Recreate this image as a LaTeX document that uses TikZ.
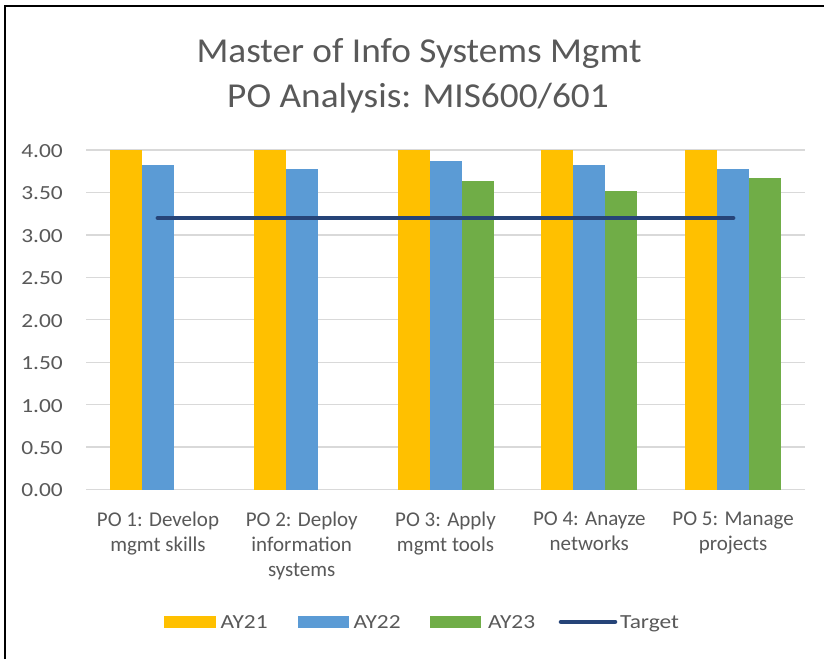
\documentclass[tikz,border=0pt]{standalone}
\usepackage{fontspec}
\setmainfont{Carlito}
\newfontfamily\widefont[FakeStretch=1.17]{Carlito}
\newfontfamily\titlefont[FakeStretch=1.065]{Carlito}
\definecolor{cA}{HTML}{FFC000}
\definecolor{cB}{HTML}{5B9BD5}
\definecolor{cC}{HTML}{70AD47}
\definecolor{cT}{HTML}{264478}
\definecolor{gridc}{HTML}{D9D9D9}
\definecolor{txtc}{HTML}{595959}
\begin{document}
\begin{tikzpicture}[x=1pt,y=1pt,
  declare function={vy(\v)=-489.5+84.875*\v;},
  gridline/.style={draw=gridc,line width=1.3pt},
  ticklbl/.style={anchor=east,inner sep=0pt,text=txtc,font=\widefont\fontsize{20}{24}\selectfont},
  catlbl/.style={anchor=north,inner sep=0pt,align=center,text=txtc,font=\fontsize{21}{25}\selectfont},
  leglbl/.style={anchor=base west,inner sep=0pt,text=txtc,font=\widefont\fontsize{20}{24}\selectfont},
  titlelbl/.style={anchor=base,inner sep=0pt,text=txtc,font=\titlefont\fontsize{35}{42}\selectfont},
  targetline/.style={draw=cT,line width=4.6pt,line cap=round}]
\useasboundingbox (0,0) rectangle (824,-659);
\fill[white] (0,0) rectangle (824,-659);
% outer frame
\draw[black,line width=2.6pt] (5,-659) -- (5,-6) -- (824,-6);
% title
\node[titlelbl] (title1) at (419,-62) {Master of Info Systems Mgmt};
\node[titlelbl] (title2) at (418,-107) {PO Analysis: MIS600/601};
% gridlines and tick labels
\foreach \v/\t [count=\k] in {0/0.00,0.5/0.50,1/1.00,1.5/1.50,2/2.00,2.5/2.50,3/3.00,3.5/3.50,4/4.00}{
  \draw[gridline] (86,{vy(\v)}) -- (805,{vy(\v)});
  \node[ticklbl] (tick\k) at (63,{vy(\v)-1}) {\t};
}
% bars
\foreach \i/\a/\b/\c in {0/4/3.82/0,1/4/3.78/0,2/4/3.87/3.64,3/4/3.82/3.52,4/4/3.78/3.67}{
  \pgfmathsetmacro\xo{110+143.8*\i}
  \fill[cA] (\xo,{vy(0)}) rectangle ({\xo+32},{vy(\a)});
  \fill[cB] ({\xo+32},{vy(0)}) rectangle ({\xo+64},{vy(\b)});
  \ifdim \c pt>0pt
    \fill[cC] ({\xo+64},{vy(0)}) rectangle ({\xo+96},{vy(\c)});
  \fi
}
% target line
\coordinate (tA) at (157.9,{vy(3.2)});
\coordinate (tB) at (733.1,{vy(3.2)});
\draw[targetline] (tA) -- (tB);
% category labels
\node[catlbl] (cat1) at (158,-512) {PO 1: Develop\\mgmt skills};
\node[catlbl] (cat2) at (301.7,-512) {PO 2: Deploy\\information\\systems};
\node[catlbl] (cat3) at (445.5,-512) {PO 3: Apply\\mgmt tools};
\node[catlbl] (cat4) at (589.3,-512) {PO 4: Anayze\\networks};
\node[catlbl] (cat5) at (733.1,-512) {PO 5: Manage\\projects};
% legend
\fill[cA] (164,-615.7) rectangle (216,-628.3);
\node[leglbl] (lg1) at (220.5,-628.5) {AY21};
\fill[cB] (298,-615.7) rectangle (349,-628.3);
\node[leglbl] (lg2) at (353.5,-628.5) {AY22};
\fill[cC] (430,-615.7) rectangle (481,-628.3);
\node[leglbl] (lg3) at (488,-628.5) {AY23};
\coordinate (lgA) at (561,-621.8);
\coordinate (lgB) at (615,-621.8);
\draw[targetline] (lgA) -- (lgB);
\node[leglbl] (lg4) at (620,-628.5) {Target};
\end{tikzpicture}
\end{document}
